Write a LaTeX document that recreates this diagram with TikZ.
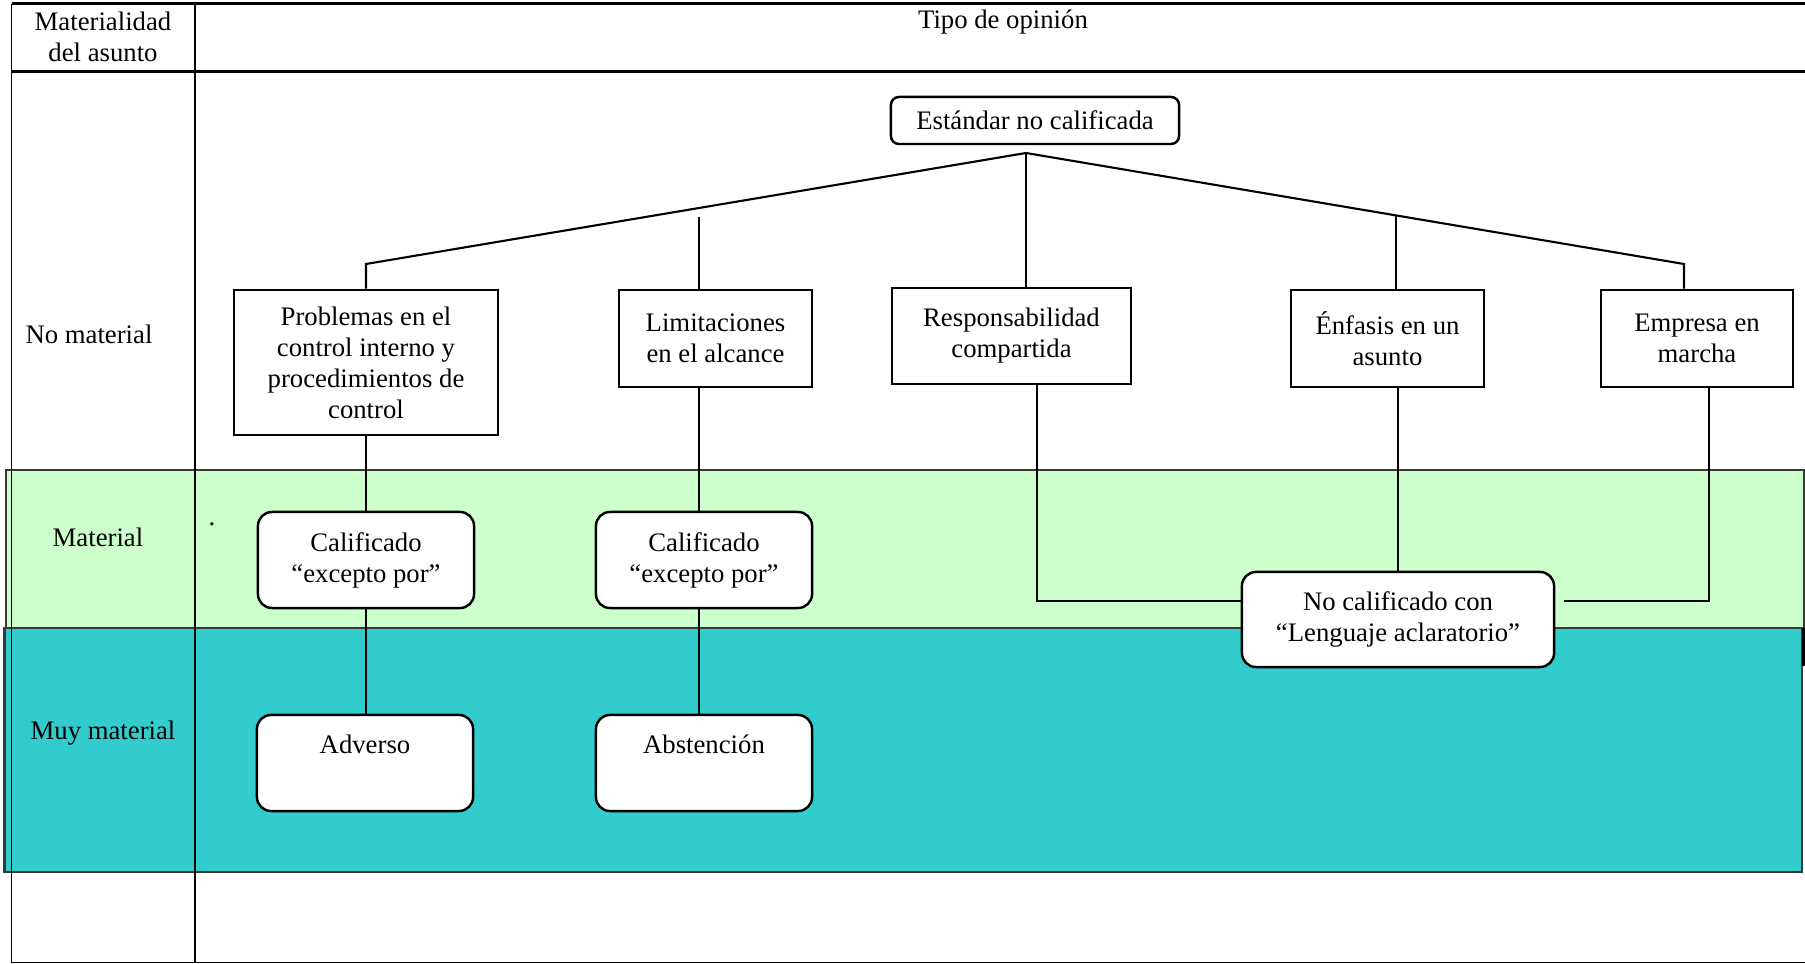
\documentclass[tikz,border=0pt]{standalone}
\usepackage{fontspec}
\setmainfont{Liberation Serif}
\definecolor{matgreen}{HTML}{CCFFCC}
\definecolor{muyteal}{HTML}{33CCCC}
\definecolor{bandline}{HTML}{383838}
\begin{document}
\begin{tikzpicture}[x=0.01cm, y=-0.01cm,
    font=\fontsize{7.6pt}{8.8pt}\selectfont,
    caja/.style={draw=black, line width=0.7pt, fill=white, align=center, inner sep=0pt},
    cajared/.style={caja, rounded corners=0.14cm},
    enlace/.style={draw=black, line width=0.6pt},
    tabla/.style={draw=black, line width=0.55pt},
    banda/.style={draw=bandline, line width=0.6pt}]
    \useasboundingbox (0,0) rectangle (1805,964);
    \draw[banda, fill=matgreen] (6,470) rectangle (1804,628);
    \draw[banda, fill=muyteal] (4.5,628) rectangle (1802,872);
    \draw[tabla, line width=0.85pt] (11.5,4) -- (1805,4);
    \draw[tabla, line width=0.85pt] (11.5,72) -- (1805,72);
    \draw[tabla] (11.5,4) -- (11.5,962.5) -- (1805,962.5);
    \draw[tabla] (195,4) -- (195,962.5);
    \draw[tabla, line width=0.85pt] (1803,628) -- (1803,666);
    \node[align=center] (materialidad) at (103,36.5) {Materialidad\\del asunto};
    \node (tipo) at (1003,22) {Tipo de opinión};
    \node (nomaterial) at (89,334) {No material};
    \node (material) at (98,537) {Material};
    \node (muymaterial) at (103,733) {Muy material};
    \node[inner sep=0pt] (punto) at (212,524) {.};
    \node[cajared, rounded corners=0.08cm, minimum width=2.88cm, minimum height=0.47cm] (estandar) at (1035,120.5) {Estándar no calificada};
    \node[caja, minimum width=2.64cm, minimum height=1.45cm] (problemas) at (366,362.5) {Problemas en el\\control interno y\\procedimientos de\\control};
    \node[caja, minimum width=1.93cm, minimum height=0.97cm] (limitaciones) at (715.5,338.5) {Limitaciones\\en el alcance};
    \node[caja, minimum width=2.39cm, minimum height=0.96cm] (responsab) at (1011.5,336) {Responsabilidad\\compartida};
    \node[caja, minimum width=1.93cm, minimum height=0.97cm] (enfasis) at (1387.5,338.5) {Énfasis en un\\asunto};
    \node[caja, minimum width=1.92cm, minimum height=0.97cm] (empresa) at (1697,338.5) {Empresa en\\marcha};
    \node[cajared, minimum width=2.16cm, minimum height=0.96cm] (calif1) at (366,560) {Calificado\\“excepto por”};
    \node[cajared, minimum width=2.16cm, minimum height=0.96cm] (calif2) at (704,560) {Calificado\\“excepto por”};
    \node[cajared, minimum width=2.16cm, text height=0.39cm, text depth=0.57cm] (adverso) at (365,763) {Adverso};
    \node[cajared, minimum width=2.16cm, text height=0.39cm, text depth=0.57cm] (abstencion) at (704,763) {Abstención};
    \node[cajared, minimum width=3.12cm, minimum height=0.95cm] (nocalif) at (1398,619.5) {No calificado con\\“Lenguaje aclaratorio”};
    \coordinate (cima) at (1026,153);
    \coordinate (pieizq) at (366,264);
    \coordinate (pieder) at (1684,264);
    \coordinate (limtope) at (699,217);
    \coordinate (enftope) at (1396,216);
    \coordinate (resjunta) at (1037,601);
    \coordinate (empjunta) at (1709,601);
    \draw[enlace] (problemas.north) -- (pieizq) -- (cima) -- (pieder) -- (pieder |- empresa.north);
    \draw[enlace] (cima) -- (cima |- responsab.north);
    \draw[enlace] (limtope) -- (limtope |- limitaciones.north);
    \draw[enlace] (enftope) -- (enftope |- enfasis.north);
    \draw[enlace] (problemas.south) -- (calif1.north);
    \draw[enlace] (calif1.south) -- (calif1.south |- adverso.north);
    \draw[enlace] (limtope |- limitaciones.south) -- (limtope |- calif2.north);
    \draw[enlace] (limtope |- calif2.south) -- (limtope |- abstencion.north);
    \draw[enlace] (resjunta |- responsab.south) -- (resjunta) -- (resjunta -| nocalif.west);
    \draw[enlace] (nocalif.north) -- (nocalif.north |- enfasis.south);
    \draw[enlace] (empjunta |- empresa.south) -- (empjunta) -- ++(-145,0);
\end{tikzpicture}
\end{document}
